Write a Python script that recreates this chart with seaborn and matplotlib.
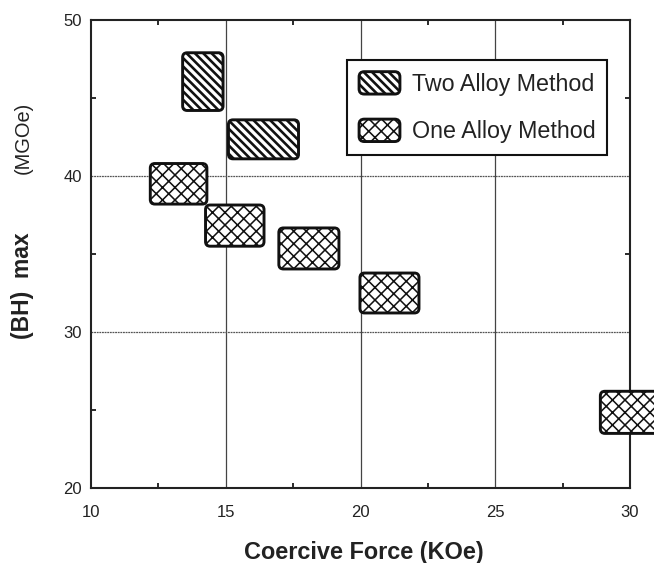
import matplotlib
matplotlib.use("Agg")
import matplotlib.pyplot as plt
import seaborn as sns
from matplotlib.patches import FancyBboxPatch, Patch
from matplotlib.legend_handler import HandlerPatch
from matplotlib.ticker import FixedLocator

# ---- data (ranges) ----
two_x_lo = [13.4, 15.1]
two_x_hi = [14.9, 17.7]
two_y_lo = [44.2, 41.1]
two_y_hi = [47.9, 43.6]

one_x_lo = [12.2, 14.25, 16.97, 19.98, 28.9]
one_x_hi = [14.3, 16.42, 19.2, 22.17, 31.4]
one_y_lo = [38.2, 35.5, 34.04, 31.22, 23.5]
one_y_hi = [40.8, 38.14, 36.67, 33.78, 26.2]

series_labels = ["Two Alloy Method", "One Alloy Method"]
x_ticks = [10, 15, 20, 25, 30]
y_ticks = [20, 30, 40, 50]

sns.set_theme(style="white")
plt.rcParams['font.family'] = ['Liberation Sans', 'DejaVu Sans']

HATCH_TWO = '\\' * 6
HATCH_ONE = 'xxxx'
HLW_TWO = 1.25
HLW_ONE = 0.75

DPI = 150
fig = plt.figure(figsize=(654 / DPI, 563 / DPI), dpi=DPI)
ax = fig.add_axes([91 / 654, 1 - 488 / 563, (630 - 91) / 654, (488 - 20) / 563])
ax.set_xlim(10, 30)
ax.set_ylim(20, 50)

# grid
for gx in [15, 20, 25]:
    ax.axvline(gx, color='#444444', lw=0.6, zorder=0.5)
for gy in [30, 40]:
    ax.axhline(gy, color='#555555', lw=0.6, ls=(0, (1.5, 0.6)), zorder=0.5)

# aspect for rounding
px_x = 539 / 20
px_y = 468 / 30
m_aspect = px_x / px_y


def make_patch(xy, w, h, hatch, hlw, **kw):
    with plt.rc_context({'hatch.linewidth': hlw, 'hatch.color': '#111111'}):
        p = FancyBboxPatch(xy, w, h, facecolor='white', edgecolor='#111111',
                           lw=1.4, hatch=hatch, **kw)
    if hasattr(p, 'set_hatch_linewidth'):
        p.set_hatch_linewidth(hlw)
    return p


def draw_boxes(xlo, xhi, ylo, yhi, hatch, hlw):
    for a, b, c, d in zip(xlo, xhi, ylo, yhi):
        p = make_patch((a, c), b - a, d - c, hatch, hlw,
                       boxstyle="round,pad=0,rounding_size=0.17",
                       mutation_aspect=m_aspect, clip_on=False, zorder=3)
        ax.add_patch(p)


plt.rcParams['hatch.color'] = '#111111'
draw_boxes(two_x_lo, two_x_hi, two_y_lo, two_y_hi, HATCH_TWO, HLW_TWO)
draw_boxes(one_x_lo, one_x_hi, one_y_lo, one_y_hi, HATCH_ONE, HLW_ONE)

# ticks
ax.xaxis.set_major_locator(FixedLocator(x_ticks))
ax.yaxis.set_major_locator(FixedLocator(y_ticks))
ax.xaxis.set_minor_locator(FixedLocator([12.5, 17.5, 22.5, 27.5]))
ax.yaxis.set_minor_locator(FixedLocator([25, 35, 45]))
ax.tick_params(which='major', length=0, labelsize=8, colors='#222222')
ax.tick_params(axis='x', which='major', pad=8)
ax.tick_params(axis='y', which='major', pad=4.3)
ax.tick_params(which='minor', direction='in', length=2.2, width=0.9,
               top=True, right=True, bottom=True, left=True, color='#222222')
for s in ax.spines.values():
    s.set_color('#222222')
    s.set_linewidth(1.0)

# labels
fig.text(364 / 654, 1 - 552 / 563, "Coercive Force (KOe)", ha='center', va='center',
         fontsize=11.3, fontweight='bold', color='#222222')
fig.text(23 / 654, 1 - 286 / 563, "(BH)  max", ha='center', va='center', rotation=90,
         fontsize=11, fontweight='bold', color='#222222')
fig.text(23 / 654, 1 - 138 / 563, "(MGOe)", ha='center', va='center', rotation=90,
         fontsize=9.6, color='#222222')


class RoundHandler(HandlerPatch):
    def create_artists(self, legend, orig_handle, xdescent, ydescent, width, height,
                       fontsize, trans):
        hlw = HLW_TWO if orig_handle.get_hatch() == HATCH_TWO else HLW_ONE
        p = make_patch((-xdescent, -ydescent), width, height,
                       orig_handle.get_hatch(), hlw,
                       boxstyle="round,pad=0,rounding_size=2.5")
        p.set_transform(trans)
        return [p]


h1 = Patch(facecolor='white', edgecolor='black', hatch=HATCH_TWO)
h2 = Patch(facecolor='white', edgecolor='black', hatch=HATCH_ONE)

leg = ax.legend([h1, h2], series_labels, loc='upper right',
                bbox_to_anchor=(607 / 654, 1 - 60 / 563), bbox_transform=fig.transFigure,
                borderaxespad=0, fontsize=11.2, handlelength=1.75, handleheight=1.1,
                handletextpad=0.5, borderpad=0.5, labelspacing=1.0,
                fancybox=False, framealpha=1, edgecolor='#111111',
                handler_map={Patch: RoundHandler()})
leg.get_frame().set_linewidth(1.0)
for t in leg.get_texts():
    t.set_color('#222222')
leg.set_zorder(5)

fig.savefig("out.png", dpi=DPI)
